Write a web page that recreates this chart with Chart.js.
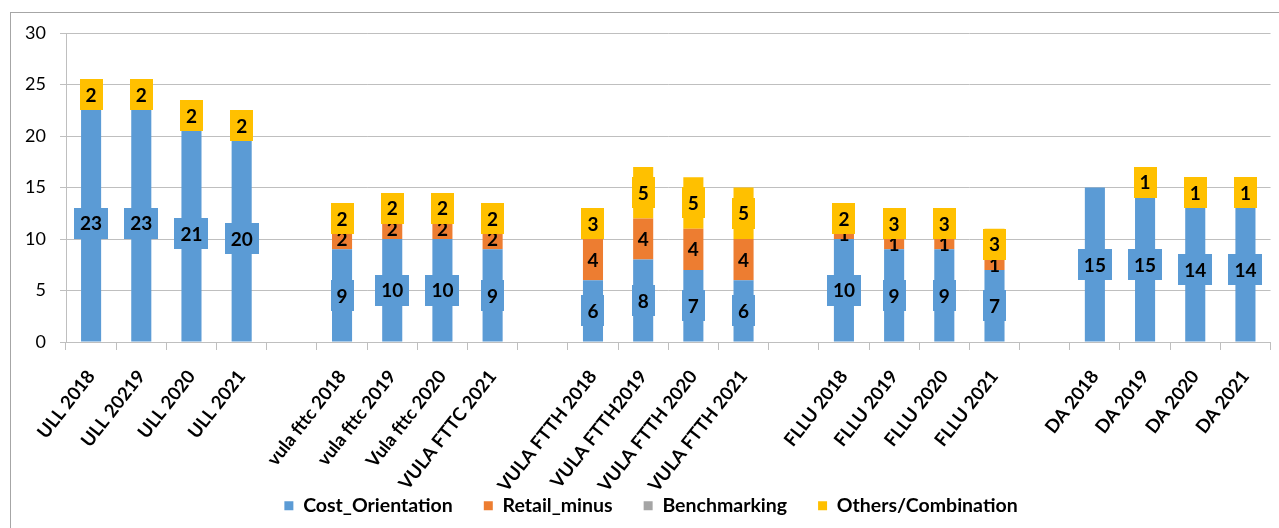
<!DOCTYPE html>
<html>
<head>
<meta charset="utf-8">
<script src="https://cdn.jsdelivr.net/npm/chart.js@4.4.1/dist/chart.umd.min.js"></script>
<style>
  html, body { margin: 0; padding: 0; background: #fff; }
  #wrap { width: 1279px; height: 528px; }
</style>
</head>
<body>
<div id="wrap"><canvas id="myChart" width="1279" height="528"></canvas></div>
<script>
const ctx = document.getElementById('myChart').getContext('2d');

// categories, empty strings leave a gap between product groups
const categories = [
    'ULL 2018', 'ULL 20219', 'ULL 2020', 'ULL 2021', '',
    'vula fttc 2018', 'vula fttc 2019', 'Vula fttc 2020', 'VULA FTTC 2021', '',
    'VULA FTTH 2018', 'VULA FTTH2019', 'VULA FTTH 2020', 'VULA FTTH 2021', '',
    'FLLU 2018', 'FLLU 2019', 'FLLU 2020', 'FLLU 2021', '',
    'DA 2018', 'DA 2019', 'DA 2020', 'DA 2021'
];
const costOrientation = [23, 23, 21, 20, null, 9, 10, 10, 9, null, 6, 8, 7, 6, null, 10, 9, 9, 7, null, 15, 15, 14, 14];
const retailMinus = [0, 0, 0, 0, null, 2, 2, 2, 2, null, 4, 4, 4, 4, null, 1, 1, 1, 1, null, 0, 0, 0, 0];
const benchmarking = [0, 0, 0, 0, null, 0, 0, 0, 0, null, 0, 0, 0, 0, null, 0, 0, 0, 0, null, 0, 0, 0, 0];
const others = [2, 2, 2, 2, null, 2, 2, 2, 2, null, 3, 5, 5, 5, null, 2, 3, 3, 3, null, 0, 1, 1, 1];
const yTicks = [0, 5, 10, 15, 20, 25, 30];

const FONT = 'Lato';
const LEGEND_TOP = 465;
const LEGEND_H = 61;
const LEGEND_SHIFT = 13;

// value labels: blue and yellow get a filled box, orange just the number
const boxLabels = {
    id: 'boxLabels',
    afterDatasetsDraw(chart) {
        const c = chart.ctx;
        c.save();
        c.font = 'bold 19px ' + FONT;
        c.textAlign = 'center';
        c.textBaseline = 'middle';
        chart.data.datasets.forEach((ds, i) => {
            const meta = chart.getDatasetMeta(i);
            meta.data.forEach((bar, j) => {
                const v = ds.data[j];
                if (!v) return;
                const txt = String(v);
                const y = (bar.y + bar.base) / 2;
                if (ds.labelBox) {
                    const w = Math.max(bar.width + 1, c.measureText(txt).width + 12);
                    c.fillStyle = ds.backgroundColor;
                    c.fillRect(Math.round(bar.x - w / 2), Math.round(y - 15.5), Math.round(w), 31);
                }
                c.fillStyle = '#000';
                c.fillText(txt, bar.x, y + 1);
            });
        });
        c.restore();
    }
};

// thin frame around the whole chart, and the legend pulled up over the
// tall category-label band
const frame = {
    id: 'frame',
    afterLayout(chart) {
        const lg = chart.legend;
        lg.top = LEGEND_TOP;
        lg.height = LEGEND_H;
        lg.bottom = LEGEND_TOP + LEGEND_H;
        lg.left += LEGEND_SHIFT;
        lg.right += LEGEND_SHIFT;
    },
    beforeDraw(chart) {
        const c = chart.ctx;
        c.save();
        c.strokeStyle = '#a6a6a6';
        c.lineWidth = 1;
        c.strokeRect(10.5, 12.5, 1400, 600);
        c.restore();
    }
};

new Chart(ctx, {
    type: 'bar',
    data: {
        labels: categories,
        datasets: [
            { label: 'Cost_Orientation', data: costOrientation, backgroundColor: '#5B9BD5', labelBox: true },
            { label: 'Retail_minus', data: retailMinus, backgroundColor: '#ED7D31', labelBox: false },
            { label: 'Benchmarking', data: benchmarking, backgroundColor: '#A5A5A5', labelBox: true },
            { label: 'Others/Combination', data: others, backgroundColor: '#FFC000', labelBox: true }
        ]
    },
    options: {
        responsive: false,
        animation: false,
        datasets: {
            bar: { barPercentage: 0.4, categoryPercentage: 1.0 }
        },
        layout: {
            padding: { top: 33, right: 3, left: 0, bottom: 15 }
        },
        scales: {
            x: {
                stacked: true,
                grid: { drawOnChartArea: false, drawTicks: true, tickLength: 8, color: '#bfbfbf', offset: true },
                border: { color: '#bfbfbf' },
                ticks: {
                    autoSkip: false, maxRotation: 52, minRotation: 52, padding: 16,
                    color: '#000', font: { family: FONT, weight: 'bold', size: 18.5 }
                },
                afterFit(scale) { scale.height = 170; }
            },
            y: {
                stacked: true,
                min: 0,
                max: 30,
                afterBuildTicks(scale) { scale.ticks = yTicks.map(v => ({ value: v })); },
                grid: { color: '#bfbfbf', tickLength: 6 },
                border: { color: '#bfbfbf' },
                ticks: { padding: 14, color: '#000', font: { family: FONT, size: 18 } },
                afterFit(scale) { scale.width = 66; }
            }
        },
        plugins: {
            tooltip: { enabled: false },
            legend: {
                position: 'bottom',
                maxHeight: 1,
                labels: {
                    boxWidth: 9, boxHeight: 9, padding: 31, color: '#000',
                    font: { family: FONT, weight: 'bold', size: 19.5 }
                }
            }
        }
    },
    plugins: [frame, boxLabels]
});
</script>
</body>
</html>
